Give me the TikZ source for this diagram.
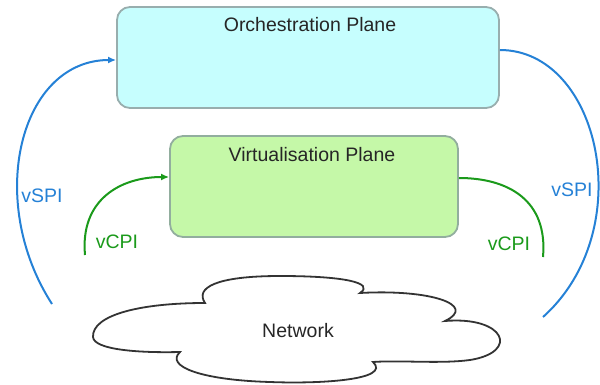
\documentclass[tikz,border=0pt]{standalone}
\usepackage{fontspec}
\setmainfont{Liberation Sans}
\usetikzlibrary{arrows.meta,calc}
\definecolor{orchfill}{HTML}{C6FEFE}
\definecolor{orchdraw}{HTML}{98AEAE}
\definecolor{virtfill}{HTML}{C5F8A8}
\definecolor{virtdraw}{HTML}{92AE9E}
\definecolor{spiblue}{HTML}{2581D6}
\definecolor{cpigreen}{HTML}{1B9A1B}
\definecolor{cloudline}{HTML}{333333}
\begin{document}
\begin{tikzpicture}[x=1pt,y=-1pt,
  plane/.style={rectangle, rounded corners=13pt, line width=1.8pt, inner sep=0pt},
  lbl/.style={font=\fontsize{19.5}{23}\selectfont, inner sep=0pt, text=black!85},
  spilbl/.style={lbl, text=spiblue},
  cpilbl/.style={lbl, text=cpigreen},
  spiarc/.style={draw=spiblue, line width=2pt},
  cpiarc/.style={draw=cpigreen, line width=2pt},
  tip/.style={-{Latex[length=8pt,width=7pt]}}
]
\useasboundingbox (0,0) rectangle (600,385);

% planes
\node[plane, fill=orchfill, draw=orchdraw, minimum width=382pt, minimum height=101pt] (orch) at (308,57.5) {};
\node[plane, fill=virtfill, draw=virtdraw, minimum width=288pt, minimum height=101pt] (virt) at (314,186.5) {};
\node[lbl] (orchtxt) at (310,25) {Orchestration Plane};
\node[lbl] (virttxt) at (312,155) {Virtualisation Plane};

% cloud
\draw[draw=cloudline, line width=1.8pt, fill=white]
  (205,303) .. controls (195,288) and (215,276) .. (280,276)
  .. controls (345,276) and (375,283) .. (360,293)
  .. controls (430,289) and (478,305) .. (445,321)
  .. controls (505,316) and (520,352) .. (470,360)
  .. controls (440,364) and (400,360) .. (373,362)
  .. controls (392,380) and (320,384) .. (270,382)
  .. controls (200,380) and (165,366) .. (180,352)
  .. controls (140,353) and (94,350) .. (93,337)
  .. controls (92,315) and (140,303) .. (205,303) -- cycle;
\node[lbl] (net) at (298,331) {Network};

% interfaces
\coordinate (spiL) at (52,304);
\coordinate (spiR) at (543,317);
\coordinate (cpiL) at (85,255);
\coordinate (cpiR) at (543,257);

\draw[spiarc, tip] (spiL) .. controls (-15,200) and (20,60) .. ($(orch.west)+(0,2.5)$);
\draw[spiarc] ($(orch.east)+(0,-7.5)$) .. controls (600,50) and (640,230) .. (spiR);
\draw[cpiarc, tip] (cpiL) .. controls (80,200) and (120,177) .. ($(virt.west)+(0,-9.5)$);
\draw[cpiarc] ($(virt.east)+(0,-8.5)$) .. controls (508,178) and (548,200) .. (cpiR);

\node[spilbl] (spiLtxt) at (42,196) {vSPI};
\node[spilbl] (spiRtxt) at (572,190) {vSPI};
\node[cpilbl] (cpiLtxt) at (117,242) {vCPI};
\node[cpilbl] (cpiRtxt) at (509,244) {vCPI};
\end{tikzpicture}
\end{document}
